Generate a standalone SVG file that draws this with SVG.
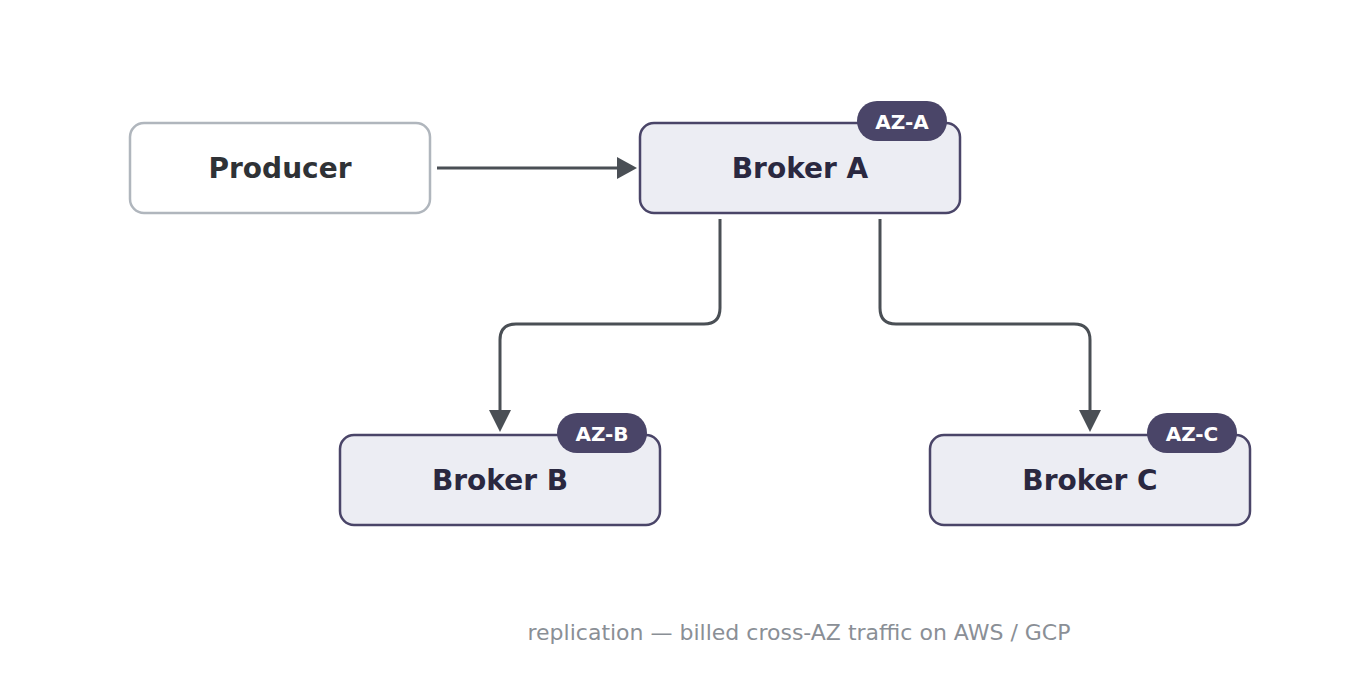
<svg xmlns="http://www.w3.org/2000/svg" width="1360" height="700" viewBox="0 0 1360 700">
<style>
.box{fill:#ecedf3;stroke:#4a4568;stroke-width:2.5}
.prod{fill:#fff;stroke:#b0b6bd;stroke-width:2.5}
.lbl{font-family:"DejaVu Sans",sans-serif;font-weight:bold;font-size:28px;text-anchor:middle;fill:#2a2840}
.badge{fill:#4a4568}
.btxt{font-family:"DejaVu Sans",sans-serif;font-weight:bold;font-size:20px;text-anchor:middle;fill:#fff}
.edge{fill:none;stroke:#4a4f55;stroke-width:3}
</style>
<defs>
<marker id="ah" viewBox="0 0 10 10" refX="9" refY="5" markerWidth="7" markerHeight="7" markerUnits="userSpaceOnUse" orient="auto">
<path d="M0,0 L10,5 L0,10 z" fill="#4a4f55"/>
</marker>
</defs>
<rect width="1360" height="700" fill="#fff"/>
<g id="connectors">
<line class="edge" x1="437" y1="168" x2="617" y2="168"/>
<path d="M617,157 L637,168 L617,179 z" fill="#4a4f55"/>
<path class="edge" d="M720,219 V308 Q720,324 704,324 H516 Q500,324 500,340 V412"/>
<path d="M489,410 L500,432 L511,410 z" fill="#4a4f55"/>
<path class="edge" d="M880,219 V308 Q880,324 896,324 H1074 Q1090,324 1090,340 V412"/>
<path d="M1079,410 L1090,432 L1101,410 z" fill="#4a4f55"/>
</g>
<g id="producer">
<rect class="prod" x="130" y="123" width="300" height="90" rx="14"/>
<text class="lbl" x="280" y="178" fill="#2f3236" style="fill:#2f3236">Producer</text>
</g>
<g id="brokerA">
<rect class="box" x="640" y="123" width="320" height="90" rx="14"/>
<text class="lbl" x="800" y="178">Broker A</text>
<rect class="badge" x="857" y="101" width="90" height="40" rx="20"/>
<text class="btxt" x="902" y="129">AZ-A</text>
</g>
<g id="brokerB">
<rect class="box" x="340" y="435" width="320" height="90" rx="14"/>
<text class="lbl" x="500" y="490">Broker B</text>
<rect class="badge" x="557" y="413" width="90" height="40" rx="20"/>
<text class="btxt" x="602" y="441">AZ-B</text>
</g>
<g id="brokerC">
<rect class="box" x="930" y="435" width="320" height="90" rx="14"/>
<text class="lbl" x="1090" y="490">Broker C</text>
<rect class="badge" x="1147" y="413" width="90" height="40" rx="20"/>
<text class="btxt" x="1192" y="441">AZ-C</text>
</g>
<text x="799" y="640" font-family="'DejaVu Sans',sans-serif" font-size="22" text-anchor="middle" fill="#8a8f96">replication — billed cross-AZ traffic on AWS / GCP</text>
</svg>
